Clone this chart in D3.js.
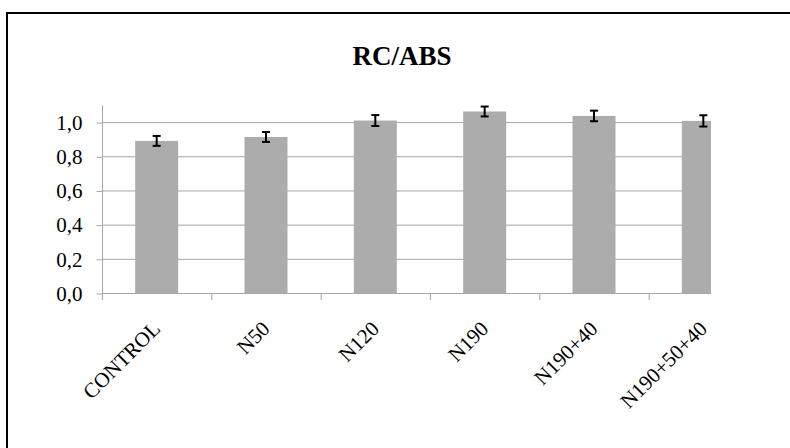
<!DOCTYPE html>
<html>
<head>
<meta charset="utf-8">
<script src="https://cdn.jsdelivr.net/npm/d3@7"></script>
<style>
    html, body { margin: 0; padding: 0; background: #ffffff; }
    svg { display: block; }
    svg text { font-family: "Liberation Serif", "Times New Roman", "DejaVu Serif", serif; }
</style>
</head>
<body>
<svg id="SVGbarChart" width="790" height="448"></svg>
<script>
// chart data
const categories = ["CONTROL", "N50", "N120", "N190", "N190+40", "N190+50+40"];
const values = [0.890, 0.913, 1.009, 1.062, 1.036, 1.007];
const errors = [0.029, 0.029, 0.032, 0.029, 0.031, 0.033];
const yTicks = [0.0, 0.2, 0.4, 0.6, 0.8, 1.0];
const titleText = "RC/ABS";

/** bar chart with error bars */
const barChart = {
    SVG: d3.select("#SVGbarChart"),
    /** plot area in pixels */
    plot: { left: 102, top: 105, bottom: 293, right: 758, clip: 711 },
    serif: "Liberation Serif, Times New Roman, DejaVu Serif, serif",
    render: () => {
        const svg = barChart.SVG;
        const p = barChart.plot;

        // outer frame, right and bottom edges are outside the picture
        svg.append("path")
            .attr("d", "M7,460 L7,13 L800,13")
            .style("fill", "none")
            .style("stroke", "#000")
            .style("stroke-width", 2);

        // title
        svg.append("text")
            .attr("x", 402)
            .attr("y", 65)
            .attr("text-anchor", "middle")
            .attr("font-family", barChart.serif)
            .attr("font-weight", "bold")
            .attr("font-size", 27)
            .text(titleText);

        const scaleX = d3.scaleBand()
            .domain(categories)
            .range([p.left, p.right])
            .paddingInner(0.607)
            .paddingOuter(0.3035);
        const scaleY = d3.scaleLinear()
            .domain([0, 1.1])
            .range([p.bottom, p.top]);

        const locale = d3.formatLocale({ decimal: ",", thousands: ".", grouping: [3], currency: ["", ""] });
        const fmt = locale.format(".1f");

        // clipping, the plot is cut off on the right
        svg.append("clipPath").attr("id", "plotClip")
            .append("rect")
            .attr("x", 0).attr("y", 0)
            .attr("width", p.clip).attr("height", 448);
        const G = svg.append("g").attr("clip-path", "url(#plotClip)");

        // gridlines
        G.selectAll("line.grid")
            .data(yTicks.filter(d => d > 0))
            .enter()
            .append("line")
            .attr("class", "grid")
            .attr("x1", p.left).attr("x2", p.right)
            .attr("y1", d => scaleY(d) + 0.5).attr("y2", d => scaleY(d) + 0.5)
            .style("stroke", "#a6a6a6")
            .style("stroke-width", 1);

        // bars
        G.selectAll("rect.bar")
            .data(categories)
            .enter()
            .append("rect")
            .attr("class", "bar")
            .attr("x", d => scaleX(d))
            .attr("y", (d, i) => scaleY(values[i]))
            .attr("width", scaleX.bandwidth())
            .attr("height", (d, i) => p.bottom - scaleY(values[i]))
            .style("fill", "#acacac");

        // x axis line and category boundary ticks
        G.append("line")
            .attr("x1", p.left).attr("x2", p.right)
            .attr("y1", p.bottom + 0.5).attr("y2", p.bottom + 0.5)
            .style("stroke", "#a6a6a6");
        const step = scaleX.step();
        G.selectAll("line.xtick")
            .data(categories)
            .enter()
            .append("line")
            .attr("class", "xtick")
            .attr("x1", (d, i) => p.left + i * step + 0.5)
            .attr("x2", (d, i) => p.left + i * step + 0.5)
            .attr("y1", p.bottom).attr("y2", p.bottom + 7)
            .style("stroke", "#a6a6a6");

        // y axis
        const axisY = d3.axisLeft(scaleY)
            .tickValues(yTicks)
            .tickSize(6)
            .tickPadding(14)
            .tickFormat(fmt);
        const gy = svg.append("g")
            .attr("transform", "translate(" + (p.left + 0.5) + ",0.5)")
            .call(axisY)
            .attr("font-family", barChart.serif)
            .attr("font-size", 21);
        gy.select(".domain")
            .attr("d", "M0," + p.top + "V" + p.bottom)
            .style("stroke", "#a6a6a6");
        gy.selectAll(".tick line").style("stroke", "#a6a6a6");
        gy.selectAll(".tick text").style("fill", "#000");

        // error bars
        const eb = svg.append("g").selectAll("g.err")
            .data(categories)
            .enter()
            .append("g")
            .attr("class", "err");
        const cx = d => scaleX(d) + scaleX.bandwidth() / 2;
        eb.append("line")
            .attr("x1", cx).attr("x2", cx)
            .attr("y1", (d, i) => scaleY(values[i] + errors[i]))
            .attr("y2", (d, i) => scaleY(values[i] - errors[i]))
            .style("stroke", "#000").style("stroke-width", 2);
        [1, -1].forEach(sign => {
            eb.append("line")
                .attr("x1", d => cx(d) - 4).attr("x2", d => cx(d) + 4)
                .attr("y1", (d, i) => scaleY(values[i] + sign * errors[i]))
                .attr("y2", (d, i) => scaleY(values[i] + sign * errors[i]))
                .style("stroke", "#000").style("stroke-width", 2);
        });

        // rotated category labels
        svg.append("g").selectAll("text.cat")
            .data(categories)
            .enter()
            .append("text")
            .attr("class", "cat")
            .attr("text-anchor", "end")
            .attr("transform", d => "translate(" + (cx(d) + 5) + "," + 330 + ") rotate(-45)")
            .attr("font-family", barChart.serif)
            .attr("font-size", 21)
            .text(d => d);
    }
};

barChart.render();
</script>
</body>
</html>
